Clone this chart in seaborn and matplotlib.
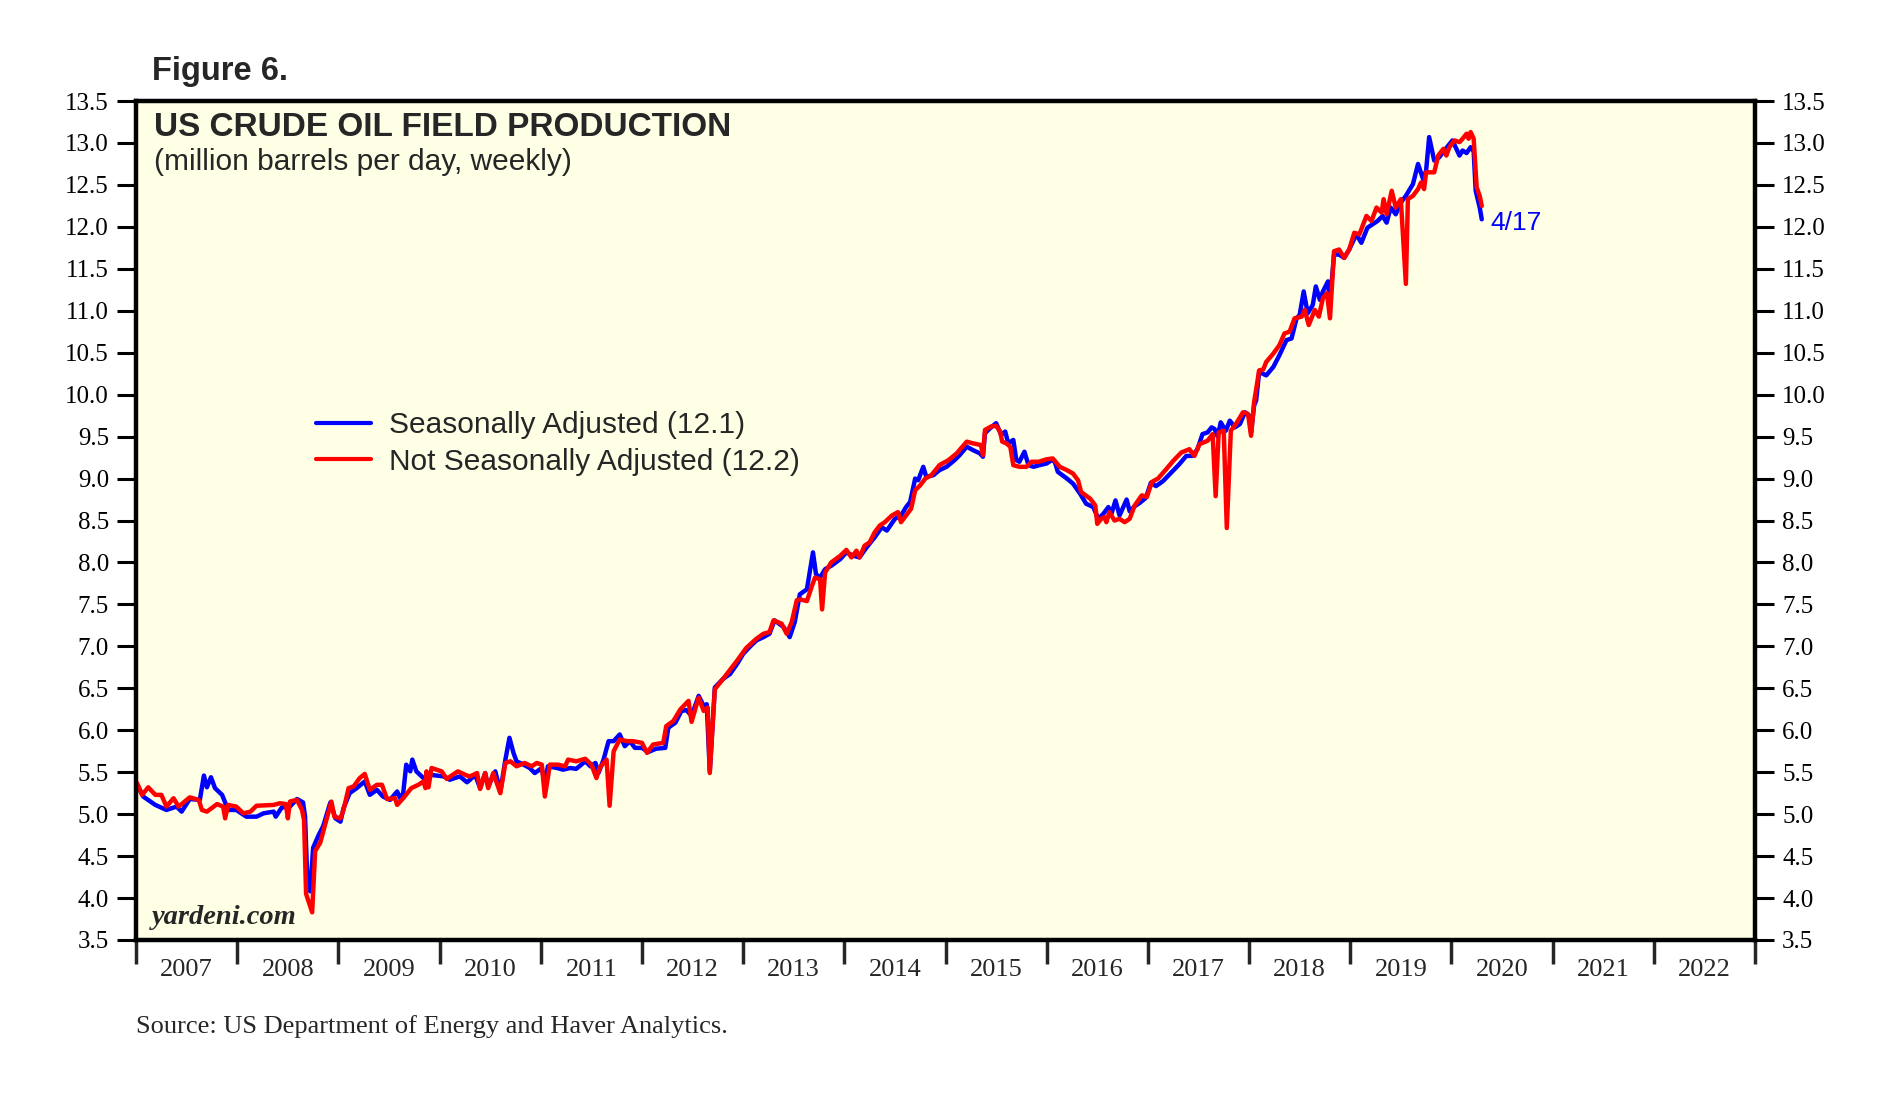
import pandas as pd
import matplotlib
matplotlib.use('Agg')
import matplotlib.pyplot as plt
import seaborn as sns

# Weekly US crude oil field production (decimal year, mb/d)
sa_year = [2007.01, 2007.07, 2007.19, 2007.30, 2007.40, 2007.45, 2007.53, 2007.63, 2007.67, 2007.70,
           2007.74, 2007.78, 2007.85, 2007.91, 2007.99, 2008.09, 2008.19, 2008.26, 2008.36, 2008.38,
           2008.44, 2008.52, 2008.59, 2008.65, 2008.67, 2008.69, 2008.72, 2008.75, 2008.80, 2008.85,
           2008.92, 2008.97, 2009.02, 2009.05, 2009.11, 2009.18, 2009.26, 2009.31, 2009.38, 2009.44,
           2009.51, 2009.58, 2009.61, 2009.64, 2009.67, 2009.71, 2009.73, 2009.77, 2009.84, 2009.90,
           2010.04, 2010.10, 2010.20, 2010.27, 2010.30, 2010.35, 2010.40, 2010.45, 2010.48, 2010.55,
           2010.60, 2010.65, 2010.69, 2010.73, 2010.76, 2010.83, 2010.89, 2010.94, 2011.01, 2011.04,
           2011.07, 2011.16, 2011.22, 2011.29, 2011.35, 2011.44, 2011.49, 2011.54, 2011.57, 2011.62,
           2011.67, 2011.72, 2011.78, 2011.83, 2011.88, 2011.93, 2012.00, 2012.06, 2012.14, 2012.23,
           2012.26, 2012.33, 2012.39, 2012.44, 2012.49, 2012.56, 2012.61, 2012.64, 2012.67, 2012.72,
           2012.80, 2012.87, 2012.94, 2013.00, 2013.07, 2013.13, 2013.20, 2013.26, 2013.31, 2013.40,
           2013.46, 2013.51, 2013.56, 2013.63, 2013.69, 2013.72, 2013.76, 2013.81, 2013.87, 2013.96,
           2014.02, 2014.09, 2014.15, 2014.22, 2014.30, 2014.37, 2014.42, 2014.50, 2014.56, 2014.61,
           2014.65, 2014.70, 2014.73, 2014.78, 2014.81, 2014.88, 2014.94, 2015.01, 2015.09, 2015.14,
           2015.21, 2015.27, 2015.34, 2015.37, 2015.39, 2015.44, 2015.50, 2015.55, 2015.59, 2015.62,
           2015.67, 2015.70, 2015.73, 2015.78, 2015.82, 2015.87, 2015.93, 2016.00, 2016.05, 2016.08,
           2016.11, 2016.20, 2016.26, 2016.33, 2016.39, 2016.46, 2016.51, 2016.56, 2016.61, 2016.64,
           2016.68, 2016.72, 2016.79, 2016.82, 2016.87, 2016.92, 2016.98, 2017.03, 2017.08, 2017.15,
           2017.23, 2017.31, 2017.38, 2017.44, 2017.49, 2017.54, 2017.59, 2017.63, 2017.66, 2017.69,
           2017.72, 2017.77, 2017.81, 2017.86, 2017.91, 2017.96, 2018.00, 2018.02, 2018.05, 2018.07,
           2018.10, 2018.17, 2018.24, 2018.30, 2018.37, 2018.42, 2018.47, 2018.50, 2018.54, 2018.58,
           2018.63, 2018.66, 2018.70, 2018.73, 2018.78, 2018.80, 2018.84, 2018.89, 2018.94, 2018.99,
           2019.06, 2019.11, 2019.17, 2019.22, 2019.27, 2019.32, 2019.36, 2019.40, 2019.45, 2019.50,
           2019.55, 2019.59, 2019.62, 2019.67, 2019.72, 2019.75, 2019.78, 2019.83, 2019.88, 2019.93,
           2020.01, 2020.08, 2020.11, 2020.15, 2020.19, 2020.22, 2020.24, 2020.28, 2020.30]
sa_value = [5.35, 5.21, 5.11, 5.05, 5.09, 5.03, 5.18, 5.17, 5.46, 5.32,
            5.44, 5.31, 5.23, 5.05, 5.05, 4.97, 4.97, 5.01, 5.03, 4.97,
            5.08, 5.09, 5.18, 5.14, 4.97, 4.29, 4.08, 4.60, 4.74, 4.86,
            5.14, 4.95, 4.91, 5.07, 5.25, 5.31, 5.39, 5.23, 5.29, 5.21,
            5.17, 5.27, 5.19, 5.25, 5.59, 5.51, 5.65, 5.51, 5.43, 5.47,
            5.45, 5.41, 5.45, 5.38, 5.41, 5.47, 5.31, 5.49, 5.33, 5.51,
            5.27, 5.65, 5.91, 5.73, 5.63, 5.59, 5.55, 5.49, 5.55, 5.35,
            5.57, 5.55, 5.53, 5.55, 5.54, 5.63, 5.57, 5.61, 5.49, 5.65,
            5.87, 5.87, 5.95, 5.81, 5.87, 5.79, 5.79, 5.74, 5.78, 5.79,
            6.03, 6.09, 6.23, 6.24, 6.17, 6.41, 6.29, 6.31, 5.51, 6.51,
            6.61, 6.67, 6.79, 6.91, 7.00, 7.07, 7.11, 7.15, 7.31, 7.23,
            7.11, 7.29, 7.62, 7.68, 8.12, 7.86, 7.82, 7.92, 7.96, 8.04,
            8.12, 8.08, 8.06, 8.18, 8.30, 8.42, 8.38, 8.52, 8.56, 8.66,
            8.72, 9.00, 8.98, 9.14, 9.02, 9.04, 9.10, 9.14, 9.22, 9.28,
            9.38, 9.34, 9.30, 9.26, 9.54, 9.60, 9.66, 9.52, 9.56, 9.42,
            9.46, 9.22, 9.20, 9.32, 9.16, 9.14, 9.16, 9.18, 9.22, 9.20,
            9.08, 9.00, 8.94, 8.82, 8.70, 8.66, 8.52, 8.58, 8.66, 8.58,
            8.74, 8.56, 8.75, 8.61, 8.67, 8.71, 8.77, 8.95, 8.91, 8.97,
            9.07, 9.17, 9.27, 9.27, 9.35, 9.53, 9.55, 9.61, 9.59, 9.50,
            9.67, 9.57, 9.69, 9.61, 9.65, 9.79, 9.75, 9.55, 9.87, 9.93,
            10.27, 10.23, 10.33, 10.47, 10.65, 10.67, 10.91, 10.95, 11.23, 10.97,
            11.07, 11.29, 11.13, 11.23, 11.35, 11.10, 11.67, 11.67, 11.63, 11.73,
            11.91, 11.81, 11.99, 12.03, 12.07, 12.13, 12.05, 12.23, 12.15, 12.29,
            12.37, 12.45, 12.51, 12.75, 12.57, 12.67, 13.07, 12.79, 12.83, 12.91,
            13.03, 12.85, 12.91, 12.88, 12.95, 12.90, 12.43, 12.23, 12.09]

nsa_year = [2007.01, 2007.06, 2007.12, 2007.19, 2007.25, 2007.30, 2007.37, 2007.42, 2007.53, 2007.62,
            2007.65, 2007.70, 2007.80, 2007.86, 2007.88, 2007.91, 2007.99, 2008.06, 2008.13, 2008.19,
            2008.36, 2008.42, 2008.48, 2008.50, 2008.52, 2008.59, 2008.64, 2008.66, 2008.68, 2008.74,
            2008.77, 2008.82, 2008.88, 2008.93, 2008.96, 2009.02, 2009.05, 2009.10, 2009.15, 2009.21,
            2009.26, 2009.31, 2009.38, 2009.43, 2009.48, 2009.56, 2009.58, 2009.64, 2009.72, 2009.79,
            2009.84, 2009.86, 2009.87, 2009.89, 2009.92, 2010.02, 2010.07, 2010.18, 2010.27, 2010.30,
            2010.37, 2010.40, 2010.45, 2010.48, 2010.53, 2010.60, 2010.65, 2010.70, 2010.76, 2010.84,
            2010.91, 2010.96, 2011.01, 2011.04, 2011.09, 2011.17, 2011.24, 2011.27, 2011.35, 2011.44,
            2011.50, 2011.55, 2011.58, 2011.65, 2011.68, 2011.72, 2011.78, 2011.85, 2011.91, 2012.00,
            2012.05, 2012.11, 2012.21, 2012.24, 2012.31, 2012.38, 2012.46, 2012.49, 2012.56, 2012.61,
            2012.65, 2012.67, 2012.72, 2012.80, 2012.94, 2013.03, 2013.13, 2013.20, 2013.26, 2013.30,
            2013.38, 2013.43, 2013.48, 2013.53, 2013.56, 2013.63, 2013.68, 2013.71, 2013.76, 2013.78,
            2013.81, 2013.87, 2013.96, 2014.02, 2014.07, 2014.12, 2014.15, 2014.20, 2014.25, 2014.30,
            2014.35, 2014.40, 2014.47, 2014.53, 2014.56, 2014.61, 2014.66, 2014.70, 2014.75, 2014.80,
            2014.86, 2014.94, 2015.03, 2015.11, 2015.21, 2015.27, 2015.35, 2015.37, 2015.39, 2015.45,
            2015.50, 2015.54, 2015.56, 2015.60, 2015.64, 2015.67, 2015.73, 2015.80, 2015.85, 2015.92,
            2016.00, 2016.06, 2016.13, 2016.20, 2016.26, 2016.31, 2016.34, 2016.43, 2016.48, 2016.50,
            2016.54, 2016.57, 2016.59, 2016.62, 2016.67, 2016.72, 2016.77, 2016.82, 2016.87, 2016.94,
            2016.99, 2017.04, 2017.10, 2017.18, 2017.25, 2017.33, 2017.41, 2017.46, 2017.51, 2017.59,
            2017.64, 2017.67, 2017.70, 2017.75, 2017.78, 2017.82, 2017.87, 2017.94, 2017.99, 2018.02,
            2018.05, 2018.10, 2018.14, 2018.17, 2018.24, 2018.30, 2018.35, 2018.40, 2018.45, 2018.52,
            2018.55, 2018.59, 2018.65, 2018.69, 2018.73, 2018.77, 2018.80, 2018.84, 2018.89, 2018.94,
            2018.99, 2019.04, 2019.09, 2019.16, 2019.21, 2019.26, 2019.31, 2019.33, 2019.36, 2019.41,
            2019.45, 2019.50, 2019.55, 2019.57, 2019.62, 2019.67, 2019.70, 2019.73, 2019.75, 2019.83,
            2019.87, 2019.92, 2019.95, 2019.98, 2020.03, 2020.08, 2020.11, 2020.15, 2020.17, 2020.19,
            2020.22, 2020.25, 2020.28, 2020.30]
nsa_value = [5.37, 5.23, 5.32, 5.23, 5.23, 5.09, 5.19, 5.09, 5.20, 5.17,
             5.05, 5.03, 5.12, 5.09, 4.95, 5.11, 5.09, 5.01, 5.03, 5.10,
             5.11, 5.13, 5.12, 4.95, 5.15, 5.17, 5.05, 4.93, 4.05, 3.83,
             4.56, 4.66, 4.93, 5.15, 4.97, 4.95, 5.05, 5.31, 5.33, 5.43,
             5.48, 5.29, 5.35, 5.35, 5.18, 5.19, 5.11, 5.19, 5.31, 5.35,
             5.39, 5.31, 5.51, 5.32, 5.55, 5.51, 5.42, 5.51, 5.46, 5.45,
             5.49, 5.30, 5.49, 5.31, 5.49, 5.25, 5.61, 5.63, 5.57, 5.61,
             5.57, 5.61, 5.59, 5.21, 5.59, 5.59, 5.57, 5.65, 5.63, 5.66,
             5.59, 5.43, 5.55, 5.65, 5.10, 5.75, 5.89, 5.87, 5.87, 5.85,
             5.73, 5.83, 5.85, 6.05, 6.11, 6.25, 6.35, 6.10, 6.39, 6.23,
             6.27, 5.49, 6.49, 6.61, 6.83, 6.98, 7.09, 7.15, 7.17, 7.31,
             7.27, 7.15, 7.29, 7.55, 7.56, 7.54, 7.72, 7.82, 7.80, 7.44,
             7.88, 8.00, 8.08, 8.15, 8.06, 8.14, 8.06, 8.20, 8.24, 8.36,
             8.44, 8.48, 8.56, 8.60, 8.48, 8.56, 8.64, 8.86, 8.92, 9.00,
             9.04, 9.16, 9.22, 9.30, 9.44, 9.42, 9.40, 9.28, 9.58, 9.62,
             9.63, 9.56, 9.44, 9.42, 9.38, 9.16, 9.14, 9.14, 9.20, 9.20,
             9.23, 9.24, 9.14, 9.10, 9.06, 8.98, 8.84, 8.76, 8.68, 8.46,
             8.52, 8.54, 8.48, 8.60, 8.50, 8.52, 8.48, 8.52, 8.68, 8.80,
             8.78, 8.96, 9.00, 9.11, 9.21, 9.31, 9.35, 9.27, 9.41, 9.45,
             9.53, 8.79, 9.55, 9.57, 8.41, 9.57, 9.65, 9.79, 9.77, 9.51,
             9.91, 10.29, 10.30, 10.39, 10.49, 10.59, 10.73, 10.75, 10.91, 10.93,
             11.01, 10.83, 11.01, 10.93, 11.15, 11.21, 10.91, 11.71, 11.73, 11.63,
             11.73, 11.93, 11.91, 12.13, 12.07, 12.23, 12.17, 12.33, 12.15, 12.43,
             12.23, 12.33, 11.32, 12.33, 12.37, 12.45, 12.53, 12.45, 12.65, 12.65,
             12.85, 12.93, 12.85, 12.95, 13.03, 13.01, 13.05, 13.11, 13.05, 13.13,
             13.05, 12.47, 12.37, 12.25]

series_labels = ['Seasonally Adjusted (12.1)', 'Not Seasonally Adjusted (12.2)']
series_colors = ['#0000ff', '#ff0000']
years = list(range(2007, 2023))
last_date = '4/17'

df = pd.concat([
    pd.DataFrame({'year': sa_year, 'value': sa_value, 'series': series_labels[0]}),
    pd.DataFrame({'year': nsa_year, 'value': nsa_value, 'series': series_labels[1]}),
], ignore_index=True)

sns.set_style('ticks')
plt.rcParams['font.family'] = ['Liberation Serif', 'DejaVu Serif']
plt.rcParams['lines.solid_joinstyle'] = 'round'

fig = plt.figure(figsize=(18.85, 10.98), dpi=100)
ax = fig.add_axes([0.0722, 0.1439, 0.8588, 0.7641])
ax.set_facecolor('#ffffe5')

sns.lineplot(data=df, x='year', y='value', hue='series', hue_order=series_labels,
             palette=series_colors, linewidth=3.2, estimator=None, sort=False, ax=ax)

ax.set_xlim(2007, 2023)
ax.set_ylim(3.5, 13.5)
ax.set_xlabel('')
ax.set_ylabel('')

# y axis on both sides
yt = [3.5 + 0.5 * i for i in range(21)]
ax.set_yticks(yt)
ax.set_yticklabels([f'{v:.1f}' for v in yt])
ax.tick_params(axis='y', which='major', direction='out', length=14, width=2.2,
               left=True, right=True, labelleft=True, labelright=True,
               labelsize=18, pad=5.5, colors='black')

# x axis: year boundaries as ticks, labels centred in each year
ax.set_xticks(list(range(2007, 2024)))
ax.set_xticklabels([])
ax.set_xticks([y + 0.5 for y in years], minor=True)
ax.set_xticklabels([str(y) for y in years], minor=True)
ax.tick_params(axis='x', which='major', direction='out', length=17, width=2.5)
ax.tick_params(axis='x', which='minor', length=0, labelsize=19, pad=14)

for s in ax.spines.values():
    s.set_visible(True)
    s.set_linewidth(3.2)
    s.set_color('black')

leg = ax.legend(loc='upper left', bbox_to_anchor=(0.111, 0.630), frameon=False,
                prop={'family': 'Liberation Sans', 'size': 21.5},
                handlelength=1.85, handletextpad=0.6, labelspacing=0.28,
                borderpad=0, borderaxespad=0)
for line in leg.get_lines():
    line.set_linewidth(3)

ax.text(0.011, 0.969, 'US CRUDE OIL FIELD PRODUCTION', transform=ax.transAxes,
        family='Liberation Sans', fontweight='bold', fontsize=24, va='center', ha='left')
ax.text(0.011, 0.927, '(million barrels per day, weekly)', transform=ax.transAxes,
        family='Liberation Sans', fontsize=21.5, va='center', ha='left')
ax.text(0.0099, 0.027, 'yardeni.com', transform=ax.transAxes, fontsize=20.5,
        fontweight='bold', fontstyle='italic', va='center', ha='left')
ax.annotate(last_date, xy=(sa_year[-1], sa_value[-1]), xytext=(6, -3),
            textcoords='offset points', color='#0000ff', fontsize=19,
            family='Liberation Sans', va='center', ha='left')

fig.text(0.0806, 0.935, 'Figure 6.', family='Liberation Sans', fontweight='bold',
         fontsize=23.5, va='center', ha='left')
fig.text(0.0722, 0.0647, 'Source: US Department of Energy and Haver Analytics.',
         fontsize=19, va='center', ha='left')

fig.savefig('out.png', dpi=100, facecolor='white')
